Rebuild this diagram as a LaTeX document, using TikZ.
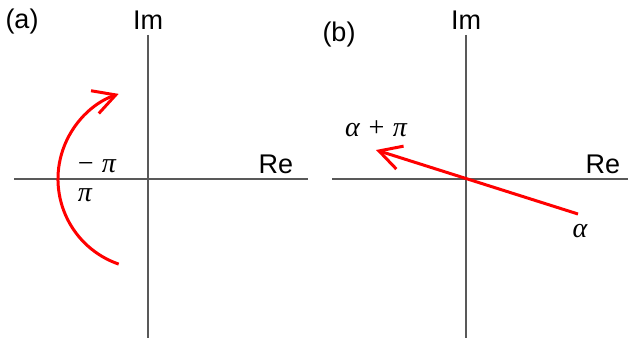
\documentclass[tikz,border=0pt]{standalone}
\usepackage{fontspec}
\setmainfont{Liberation Sans}
\newfontfamily\grk{Liberation Serif}
\usetikzlibrary{arrows.meta}

\begin{document}
\begin{tikzpicture}[x=0.5pt,y=0.5pt,>={Straight Barb[length=11pt,width=12pt]},
 axis/.style={draw=black!65,line width=0.6pt},
 phase/.style={draw=red,line width=1.5pt,->},
 lbl/.style={font=\fontsize{13.5}{15}\selectfont,inner sep=0pt},
 ang/.style={font=\grk\itshape\fontsize{14}{16}\selectfont,inner sep=0pt}]
 \useasboundingbox (0,0) rectangle (628,-342);
 % (a)
 \coordinate (oa) at (148,-179);
 \draw[axis] (14,-179) -- (308,-179);
 \draw[axis] (148,-35) -- (148,-338);
 \node[lbl] (tla) at (22,-22) {(a)};
 \node[lbl] (ima) at (148,-20) {Im};
 \node[lbl] (rea) at (276,-164) {Re};
 \draw[phase] ([shift={(251:90)}]oa) arc[start angle=251,end angle=109,radius=90];
 \node[ang] (mpi) at (96,-166) {− π};
 \node[ang] (ppi) at (85,-195) {π};
 % (b)
 \coordinate (ob) at (466,-179);
 \coordinate (al) at (578,-214);
 \coordinate (alpi) at (376,-150);
 \draw[axis] (332,-179) -- (628,-179);
 \draw[axis] (466,-35) -- (466,-338);
 \node[lbl] (tlb) at (339,-35) {(b)};
 \node[lbl] (imb) at (466,-20) {Im};
 \node[lbl] (reb) at (603,-164) {Re};
 \draw[phase] (al) -- (alpi);
 \node[ang] (alab) at (580,-231) {α};
 \node[ang] (aplab) at (376,-129) {α + π};
\end{tikzpicture}
\end{document}
